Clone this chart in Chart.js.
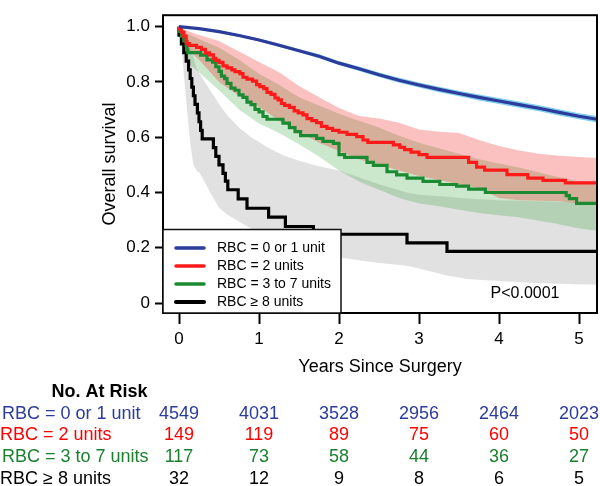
<!DOCTYPE html>
<html><head><meta charset="utf-8">
<script src="https://cdn.jsdelivr.net/npm/chart.js@4.4.1/dist/chart.umd.min.js"></script>
<style>html,body{margin:0;padding:0;background:#fff;}#wrap{width:600px;height:486px;}</style>
</head><body><div id="wrap"><canvas id="c" width="600" height="486"></canvas></div>
<script>
// ---------- data ----------
const xTicks = [0, 1, 2, 3, 4, 5];
const xTickLabels = ['0', '1', '2', '3', '4', '5'];
const yTicks = [0, 0.2, 0.4, 0.6, 0.8, 1.0];
const yTickLabels = ['0', '0.2', '0.4', '0.6', '0.8', '1.0'];

const seriesNames = ['RBC = 0 or 1 unit', 'RBC = 2 units', 'RBC = 3 to 7 units', 'RBC \u2265 8 units'];

// RBC = 0 or 1 unit
const blueT  = [0,0.25,0.5,0.75,1,1.25,1.5,1.75,2,2.25,2.5,2.75,3,3.25,3.5,3.75,4,4.25,4.5,4.75,5,5.225];
const blueS  = [1.0,0.993,0.982,0.968,0.952,0.933,0.913,0.893,0.868,0.848,0.826,0.806,0.789,0.773,0.758,0.744,0.731,0.718,0.705,0.69,0.676,0.665];
const blueLo = [1.0,0.990,0.978,0.963,0.947,0.927,0.907,0.886,0.861,0.840,0.818,0.797,0.780,0.763,0.748,0.733,0.720,0.707,0.694,0.679,0.665,0.653];
const blueHi = [1.0,0.996,0.986,0.973,0.957,0.939,0.919,0.900,0.875,0.856,0.834,0.815,0.798,0.783,0.768,0.755,0.742,0.729,0.716,0.701,0.687,0.677];

// RBC = 2 units
const redT = [0,0.03,0.06,0.09,0.10,0.13,0.22,0.28,0.33,0.38,0.43,0.46,0.50,0.55,0.60,0.66,0.70,0.76,0.80,0.85,0.92,0.97,1.01,1.06,1.10,1.15,1.20,1.24,1.28,1.32,1.38,1.44,1.49,1.55,1.60,1.66,1.72,1.78,1.85,1.92,2.00,2.10,2.22,2.30,2.36,2.68,2.76,2.82,2.90,3.00,3.10,3.62,3.72,3.82,4.10,4.36,4.55,4.83,5.20,5.225];
const redS = [1.0,0.993,0.980,0.966,0.946,0.939,0.932,0.925,0.918,0.905,0.898,0.885,0.878,0.871,0.858,0.851,0.844,0.837,0.830,0.817,0.810,0.803,0.790,0.783,0.776,0.762,0.755,0.742,0.735,0.722,0.715,0.708,0.695,0.688,0.681,0.667,0.660,0.653,0.639,0.632,0.625,0.618,0.610,0.602,0.590,0.581,0.572,0.563,0.555,0.546,0.537,0.527,0.509,0.492,0.481,0.465,0.452,0.444,0.435,0.435];
const redCiT = [0,0.1,0.25,0.5,0.75,1.0,1.25,1.5,1.75,2.0,2.25,2.5,2.75,3.0,3.25,3.5,3.75,4.0,4.25,4.5,4.75,5.0,5.225];
const redHi  = [1.0,0.985,0.97,0.948,0.91,0.872,0.835,0.785,0.745,0.706,0.677,0.668,0.652,0.628,0.62,0.615,0.59,0.568,0.552,0.54,0.533,0.528,0.525];
const redLo  = [1.0,0.92,0.88,0.80,0.75,0.71,0.66,0.62,0.58,0.55,0.52,0.50,0.48,0.46,0.445,0.43,0.415,0.38,0.372,0.37,0.368,0.36,0.355];

// RBC = 3 to 7 units
const greenT = [0,0.03,0.06,0.09,0.10,0.11,0.27,0.35,0.42,0.46,0.50,0.53,0.57,0.60,0.65,0.70,0.75,0.80,0.85,0.90,0.95,1.00,1.05,1.10,1.30,1.38,1.45,1.52,1.72,1.80,1.93,2.00,2.07,2.35,2.43,2.60,2.72,2.85,3.05,3.26,3.47,3.62,3.83,4.84,4.88,4.97,5.03,5.225];
const greenS = [1.0,0.983,0.966,0.949,0.932,0.915,0.906,0.897,0.880,0.872,0.855,0.838,0.821,0.812,0.795,0.778,0.770,0.753,0.744,0.727,0.718,0.701,0.692,0.675,0.665,0.651,0.635,0.620,0.606,0.596,0.585,0.578,0.537,0.527,0.509,0.498,0.475,0.464,0.452,0.440,0.429,0.423,0.412,0.400,0.389,0.378,0.361,0.361];
const greenCiT = [0,0.1,0.25,0.5,0.75,1.0,1.25,1.5,1.75,2.0,2.25,2.5,2.75,3.0,3.25,3.5,3.75,4.0,4.25,4.5,4.75,5.0,5.225];
const greenHi  = [1.0,0.975,0.955,0.925,0.88,0.83,0.79,0.745,0.715,0.685,0.66,0.635,0.605,0.58,0.56,0.54,0.52,0.505,0.49,0.472,0.455,0.44,0.435];
const greenLo  = [1.0,0.87,0.835,0.77,0.70,0.65,0.615,0.575,0.53,0.48,0.44,0.41,0.38,0.36,0.35,0.338,0.326,0.318,0.31,0.298,0.285,0.27,0.262];

// RBC >= 8 units
const blackT = [0,0.03,0.06,0.09,0.12,0.14,0.16,0.18,0.20,0.23,0.25,0.27,0.29,0.43,0.46,0.50,0.55,0.58,0.61,0.74,0.85,1.12,1.33,1.68,2.85,3.35,3.61,5.225];
const blackS = [1.0,0.969,0.938,0.906,0.875,0.844,0.8125,0.781,0.75,0.719,0.688,0.656,0.625,0.594,0.5625,0.531,0.50,0.469,0.441,0.41,0.377,0.343,0.311,0.277,0.249,0.218,0.187,0.187];
const grayT  = [0,0.03,0.06,0.1,0.14,0.18,0.22,0.26,0.3,0.39,0.5,0.6,0.75,0.9,1.1,1.3,1.5,1.75,2.0,2.5,2.85,3.0,3.35,3.6,4.0,4.5,5.225];
const grayHi = [1.0,0.99,0.97,0.95,0.92,0.89,0.85,0.83,0.81,0.77,0.72,0.68,0.635,0.6,0.565,0.535,0.515,0.495,0.48,0.43,0.40,0.392,0.385,0.378,0.372,0.368,0.362];
const grayLo = [1.0,0.93,0.83,0.70,0.58,0.50,0.48,0.47,0.45,0.40,0.345,0.32,0.295,0.27,0.25,0.225,0.205,0.185,0.165,0.145,0.135,0.125,0.10,0.087,0.08,0.072,0.066];

// Number at risk
const riskTimes = [0, 1, 2, 3, 4, 5];
const riskBlue  = [4549, 4031, 3528, 2956, 2464, 2023];
const riskRed   = [149, 119, 89, 75, 60, 50];
const riskGreen = [117, 73, 58, 44, 36, 27];
const riskBlack = [32, 12, 9, 8, 6, 5];

// ---------- styling ----------
const FONT = "'Liberation Sans', Arial, Helvetica, sans-serif";
const C_BLUE = '#2b3c9b', C_RED = '#ff1a1a', C_GREEN = '#1b8a32', C_BLACK = '#000000';
const lineColors = [C_BLUE, C_RED, C_GREEN, C_BLACK];
const tableColors = ['#2b3c9b', '#ff0000', '#1b7f2e', '#000000'];

const pts = (T, S) => T.map((t, i) => ({x: t, y: S[i]}));
const NONE = 'rgba(0,0,0,0)';
function band(T, lo, hi, color, order) {
  return [
    {data: pts(T, lo), borderColor: NONE, borderWidth: 0, pointRadius: 0, fill: false, order: order, tension: 0},
    {data: pts(T, hi), borderColor: NONE, borderWidth: 0, pointRadius: 0, fill: '-1', backgroundColor: color, order: order, tension: 0}
  ];
}
function curve(T, S, color, width, order, stepped) {
  return {data: pts(T, S), borderColor: color, borderWidth: width, pointRadius: 0, fill: false,
          stepped: stepped ? 'after' : false, order: order, borderJoinStyle: 'miter', borderCapStyle: 'butt'};
}

const datasets = [
  ...band(grayT, grayLo, grayHi, 'rgba(120,120,120,0.22)', 9),
  ...band(greenCiT, greenLo, greenHi, 'rgba(40,160,40,0.24)', 8),
  ...band(redCiT, redLo, redHi, 'rgba(240,30,30,0.28)', 7),
  ...band(blueT, blueLo, blueHi, 'rgba(90,190,235,0.75)', 6),
  curve(blackT, blackS, C_BLACK, 3.2, 4, true),
  curve(greenT, greenS, C_GREEN, 3.2, 3, true),
  curve(redT, redS, C_RED, 3.2, 2, true),
  curve(blueT, blueS, C_BLUE, 3.2, 1, false)
];

const overlay = {
  id: 'overlay',
  afterDatasetsDraw(chart) {
    const {ctx, chartArea: a} = chart;
    ctx.save();
    ctx.strokeStyle = '#000'; ctx.lineWidth = 2;
    ctx.strokeRect(a.left, a.top, a.right - a.left, a.bottom - a.top);
    ctx.restore();
  },
  afterDraw(chart) {
    const {ctx, chartArea: a, scales} = chart;
    const xs = scales.x;
    ctx.save();
    // legend box
    const lx = a.left, ly = 229.5, lw = 178, lh = a.bottom - 229.5;
    ctx.fillStyle = '#fff'; ctx.fillRect(lx, ly, lw, lh);
    ctx.strokeStyle = '#111'; ctx.lineWidth = 1.5; ctx.strokeRect(lx, ly, lw, lh);
    ctx.font = '14px ' + FONT; ctx.textBaseline = 'middle'; ctx.textAlign = 'left';
    seriesNames.forEach((n, i) => {
      const y = 248 + i * 18;
      ctx.strokeStyle = lineColors[i]; ctx.lineWidth = i === 3 ? 4 : 3.5; ctx.lineCap = 'round';
      ctx.beginPath(); ctx.moveTo(176, y); ctx.lineTo(204, y); ctx.stroke();
      ctx.fillStyle = '#000'; ctx.fillText(n, 217, y + 0.5);
    });
    // p value
    ctx.font = '16px ' + FONT; ctx.textAlign = 'center'; ctx.fillStyle = '#000';
    ctx.fillText('P<0.0001', 525, 294);
    // number at risk table
    ctx.font = 'bold 18px ' + FONT; ctx.textAlign = 'center';
    ctx.fillText('No. At Risk', 99.5, 392);
    const rows = [riskBlue, riskRed, riskGreen, riskBlack];
    rows.forEach((r, i) => {
      const y = 392 + 21.7 * (i + 1);
      ctx.fillStyle = tableColors[i];
      ctx.font = '18px ' + FONT; ctx.textAlign = 'left';
      ctx.fillText(seriesNames[i], i % 2 === 0 ? 2 : 0, y);
      ctx.textAlign = 'center';
      r.forEach((v, j) => ctx.fillText(String(v), xs.getPixelForValue(riskTimes[j]), y));
    });
    ctx.restore();
  }
};

Chart.defaults.font.family = FONT;
Chart.defaults.color = '#000';

new Chart(document.getElementById('c'), {
  type: 'line',
  data: {datasets},
  plugins: [overlay],
  options: {
    responsive: false, animation: false, devicePixelRatio: 1, events: [],
    layout: {padding: {left: 0, right: 3, top: 1, bottom: 108}},
    plugins: {legend: {display: false}, tooltip: {enabled: false}},
    scales: {
      x: {
        type: 'linear', min: -0.2, max: 5.225,
        afterBuildTicks: s => { s.ticks = xTicks.map(v => ({value: v})); },
        afterFit: s => { s.height = 65; },
        grid: {drawOnChartArea: false, drawTicks: true, tickLength: 11, tickWidth: 2, tickColor: '#000'},
        border: {display: false},
        ticks: {font: {size: 17}, color: '#000', padding: 5, maxRotation: 0, autoSkip: false,
                callback: (v, i) => xTickLabels[i]},
        title: {display: true, text: 'Years Since Surgery', font: {size: 18}, color: '#000', padding: {top: 0, bottom: 0}}
      },
      y: {
        type: 'linear', min: -0.036, max: 1.0415,
        afterBuildTicks: s => { s.ticks = yTicks.map(v => ({value: v})); },
        afterFit: s => { s.width = 163; },
        grid: {drawOnChartArea: false, drawTicks: true, tickLength: 8, tickWidth: 2, tickColor: '#000'},
        border: {display: false},
        ticks: {font: {size: 17}, color: '#000', padding: 5, autoSkip: false,
                callback: (v, i) => yTickLabels[i]},
        title: {display: true, text: 'Overall survival', font: {size: 18}, color: '#000', padding: {top: 99, bottom: 0}}
      }
    }
  }
});
</script></body></html>
